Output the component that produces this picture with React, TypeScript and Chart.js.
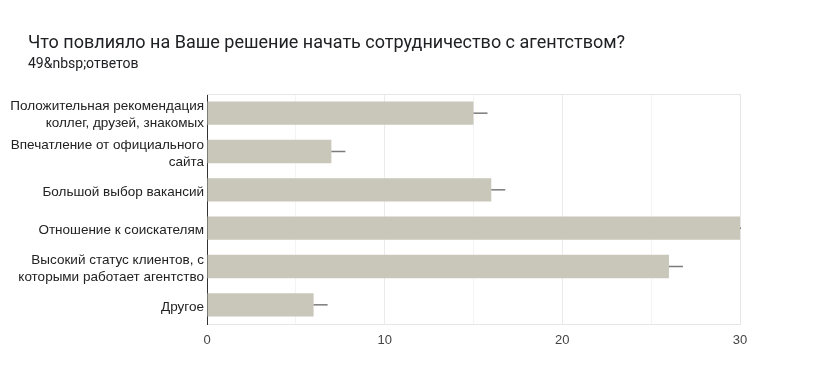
import React, { useEffect, useRef } from "react";
import { Chart, registerables } from "chart.js";

Chart.register(...registerables);

const titleText = "Что повлияло на Ваше решение начать сотрудничество с агентством?";
const subtitleText = "49&nbsp;ответов";

const categories: (string | string[])[] = [
  ["Положительная рекомендация", "коллег, друзей, знакомых"],
  ["Впечатление от официального", "сайта"],
  "Большой выбор вакансий",
  "Отношение к соискателям",
  ["Высокий статус клиентов, с", "которыми работает агентство"],
  "Другое",
];

const counts: number[] = [15, 7, 16, 30, 26, 6];

const axisMin = 0;
const axisMax = 30;
const gridStep = 5;
const labelStep = 10;

const headerPlugin = {
  id: "header",
  afterDraw(chart: any) {
    const { ctx } = chart;
    ctx.save();
    ctx.fillStyle = "#202124";
    ctx.textAlign = "left";
    ctx.textBaseline = "alphabetic";
    ctx.font = "400 18px Roboto";
    ctx.fillText(titleText, 28, 47.5);
    ctx.font = "400 14px Roboto";
    ctx.fillText(subtitleText, 28, 67.5);
    ctx.restore();
  },
};

const whiskerPlugin = {
  id: "whiskers",
  afterDatasetsDraw(chart: any) {
    const { ctx, chartArea } = chart;
    const meta = chart.getDatasetMeta(0);
    ctx.save();
    ctx.beginPath();
    ctx.rect(chartArea.left, chartArea.top, chartArea.right - chartArea.left + 1, chartArea.bottom - chartArea.top);
    ctx.clip();
    ctx.strokeStyle = "#7a7a7a";
    ctx.lineWidth = 1.5;
    meta.data.forEach((bar: any) => {
      ctx.beginPath();
      ctx.moveTo(bar.x, bar.y);
      ctx.lineTo(bar.x + 14, bar.y);
      ctx.stroke();
    });
    ctx.restore();
  },
};

const frameTopPlugin = {
  id: "frameTop",
  beforeDatasetsDraw(chart: any) {
    const { ctx, chartArea } = chart;
    ctx.save();
    ctx.strokeStyle = "#e6e6e6";
    ctx.lineWidth = 1;
    ctx.beginPath();
    ctx.moveTo(chartArea.left, chartArea.top + 0.5);
    ctx.lineTo(chartArea.right, chartArea.top + 0.5);
    ctx.stroke();
    ctx.restore();
  },
};

export default function App() {
  const ref = useRef<HTMLCanvasElement | null>(null);

  useEffect(() => {
    if (!ref.current) return;
    const chart = new Chart(ref.current, {
      type: "bar",
      data: {
        labels: categories,
        datasets: [
          {
            data: counts,
            backgroundColor: "#c9c6ba",
            borderWidth: 0,
            categoryPercentage: 1,
            barPercentage: 0.61,
          },
        ],
      },
      plugins: [whiskerPlugin, frameTopPlugin, headerPlugin],
      options: {
        indexAxis: "y",
        animation: false,
        responsive: true,
        maintainAspectRatio: false,
        layout: { padding: { left: 0, right: 83, top: 94, bottom: 0 } },
        plugins: {
          legend: { display: false },
          tooltip: { enabled: false },
          title: { display: false },
        },
        scales: {
          x: {
            type: "linear",
            min: axisMin,
            max: axisMax,
            afterFit: (scale: any) => {
              scale.height = 68;
            },
            ticks: {
              stepSize: gridStep,
              color: "#444444",
              padding: 8.5,
              maxRotation: 0,
              font: { family: "Liberation Sans, Arial", size: 13 },
              callback: (v: any) => (Number(v) % labelStep === 0 ? String(v) : ""),
            },
            grid: {
              drawTicks: false,
              color: (ctx: any) => {
                const v = ctx.tick ? ctx.tick.value : 0;
                if (v === axisMin) return "rgba(0,0,0,0)";
                if (v === axisMax) return "#e6e6e6";
                return v % labelStep === 0 ? "#ebebeb" : "#f4f4f4";
              },
            },
            border: { display: true, color: "#e6e6e6" },
          },
          y: {
            type: "category",
            afterFit: (scale: any) => {
              scale.width = 207;
            },
            ticks: {
              color: "#222222",
              padding: 3,
              labelOffset: 2,
              font: { family: "Liberation Sans, Arial", size: 13.5, lineHeight: 1.25 },
            },
            grid: { display: false, drawTicks: false },
            border: { display: true, color: "#333333", width: 1 },
          },
        },
      },
    });
    return () => chart.destroy();
  }, []);

  return (
    <div style={{ position: "fixed", left: 0, top: 0, width: 823, height: 392, background: "#ffffff" }}>
      <canvas ref={ref} />
    </div>
  );
}
